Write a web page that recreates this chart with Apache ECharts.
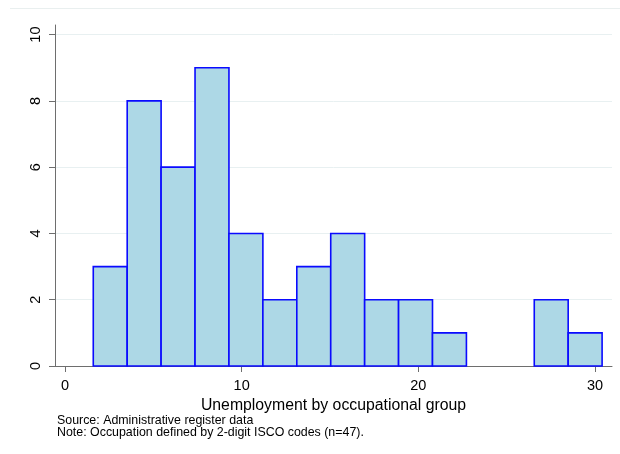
<!DOCTYPE html>
<html>
<head>
<meta charset="utf-8">
<script src="https://cdn.jsdelivr.net/npm/echarts@6/dist/echarts.min.js"></script>
<style>
html, body { margin: 0; padding: 0; background: #fff; }
#chart { width: 620px; height: 454px; }
</style>
</head>
<body>
<div id="chart"></div>
<script>
// Histogram definition: first bin edge, bin width and the frequency in each bin
const binStart = 1.6;
const binWidth = 1.92;
const binCounts = [3, 8, 6, 9, 4, 2, 3, 4, 2, 2, 1, 0, 0, 2, 1];

// Axis ticks and text
const xTicks = [0, 10, 20, 30];
const yTicks = [0, 2, 4, 6, 8, 10];
const xTitle = 'Unemployment by occupational group';
const noteLines = [
  'Source: Administrative register data',
  'Note: Occupation defined by 2-digit ISCO codes (n=47).'
];

// [left edge, right edge, frequency] for each bin
const bins = binCounts.map((c, i) => [binStart + i * binWidth, binStart + (i + 1) * binWidth, c]);

const FONT = '"Liberation Sans", Arial, Helvetica, sans-serif';
const AXIS_GREY = '#6e6e6e';

const chart = echarts.init(document.getElementById('chart'), null, { renderer: 'canvas' });

chart.setOption({
  animation: false,
  backgroundColor: '#ffffff',
  grid: { left: 55, right: 8, top: 25, bottom: 88, containLabel: false },
  xAxis: {
    type: 'value',
    min: -0.566,
    max: 30.96,
    axisLine: { show: true, onZero: false, lineStyle: { color: AXIS_GREY, width: 1 } },
    axisTick: { show: true, customValues: xTicks, length: 6, lineStyle: { color: AXIS_GREY } },
    axisLabel: { customValues: xTicks, color: '#000', fontFamily: FONT, fontSize: 14.5, margin: 12 },
    splitLine: { show: false },
    name: xTitle,
    nameLocation: 'middle',
    nameGap: 20,
    nameTextStyle: { color: '#000', fontFamily: FONT, fontSize: 15.8, verticalAlign: 'top' }
  },
  yAxis: {
    type: 'value',
    min: 0,
    max: 10.29,
    axisLine: { show: true, onZero: false, lineStyle: { color: AXIS_GREY, width: 1 } },
    axisTick: { show: true, customValues: yTicks, length: 6, lineStyle: { color: AXIS_GREY } },
    axisLabel: { customValues: yTicks, rotate: 90, color: '#000', fontFamily: FONT, fontSize: 14.5, margin: 12 },
    splitLine: { show: true, lineStyle: { color: '#e8f0f1', width: 1 } }
  },
  series: [{
    type: 'custom',
    data: bins,
    encode: { x: [0, 1], y: 2 },
    renderItem: function (params, api) {
      const count = api.value(2);
      if (!count) return null;
      const base = api.coord([api.value(0), 0]);
      const top = api.coord([api.value(1), count]);
      return {
        type: 'rect',
        shape: { x: base[0], y: top[1], width: top[0] - base[0], height: base[1] - top[1] },
        style: { fill: '#add8e6', stroke: '#0a0aff', lineWidth: 1.6 }
      };
    }
  }],
  graphic: [
    {
      type: 'line',
      shape: { x1: 10, y1: 8.5, x2: 620, y2: 8.5 },
      style: { stroke: '#e9efef', lineWidth: 1 },
      silent: true
    },
    {
      type: 'text',
      left: 57,
      top: 415,
      style: {
        text: noteLines.join('\n'),
        fill: '#000',
        font: '12.4px ' + FONT,
        lineHeight: 12
      }
    }
  ]
});
</script>
</body>
</html>
